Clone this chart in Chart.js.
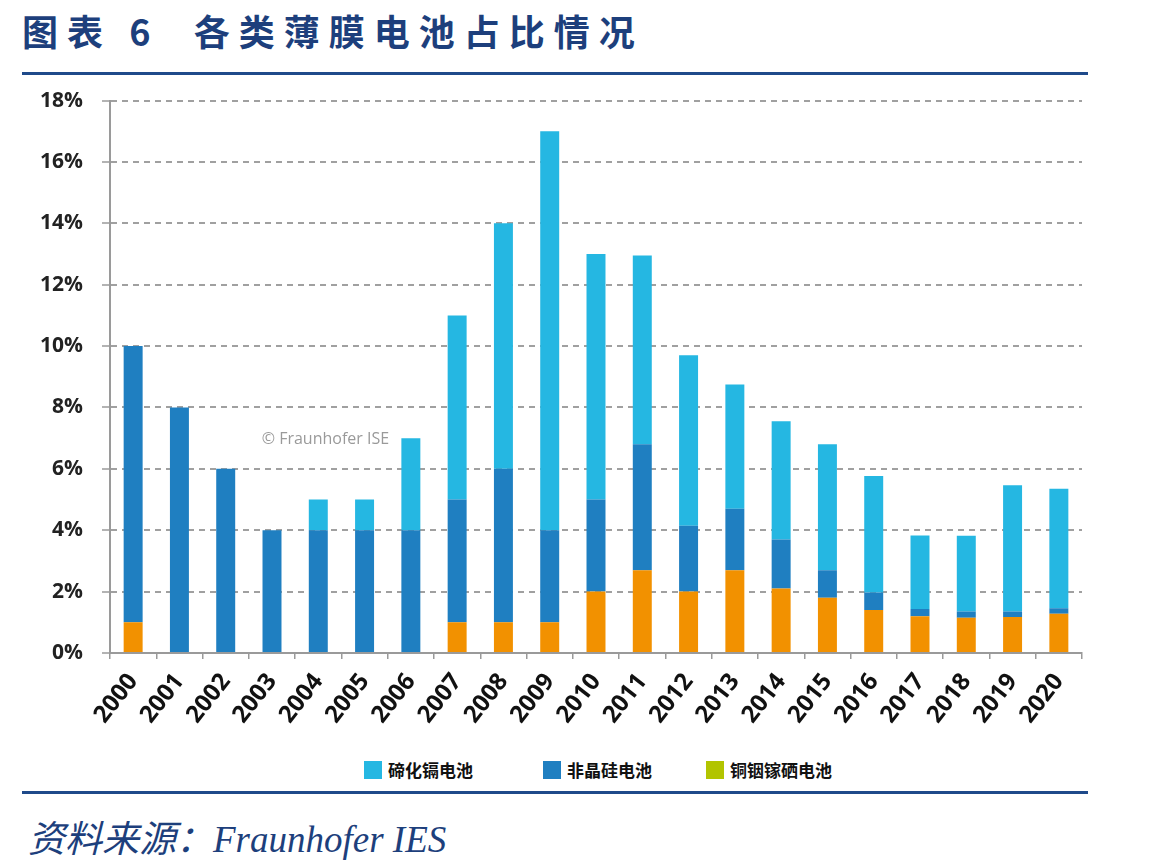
<!DOCTYPE html>
<html>
<head>
<meta charset="utf-8">
<script src="https://cdn.jsdelivr.net/npm/chart.js@4.4.1/dist/chart.umd.min.js"></script>
<style>
  html, body { margin: 0; padding: 0; background: #fff; }
  body { width: 1149px; height: 868px; position: relative; overflow: hidden; }
  .title {
    position: absolute; left: 22px; top: 4px;
    font-family: "Noto Sans CJK SC", sans-serif; font-weight: 700;
    font-size: 36px; color: #1d3f7c; letter-spacing: 9px; white-space: pre;
  }
  .rule { position: absolute; left: 22px; width: 1066px; height: 3px; background: #1f4a8a; }
  .source {
    position: absolute; left: 28px; top: 809px;
    font-family: "Liberation Serif", "Noto Sans CJK SC", serif; font-style: italic;
    font-size: 37px; color: #1d3f7c; white-space: pre;
  }
  #wrap { position: absolute; left: 0; top: 69px; width: 1149px; height: 676px; }
  .legend { position: absolute; top: 755px; height: 20px; font-family: "Noto Sans CJK SC", sans-serif; }
  .legend span.sw { display: inline-block; width: 18px; height: 18px; vertical-align: middle; margin-right: 6px; }
  .legend span.tx { font-size: 17px; font-weight: 700; color: #111; vertical-align: middle; }
</style>
</head>
<body>
<div class="title">图表 6  各类薄膜电池占比情况</div>
<div class="rule" style="top:72px"></div>
<div id="wrap"><canvas id="chart"></canvas></div>
<div id="legend"></div>
<div class="rule" style="top:791px"></div>
<div class="source">资料来源：Fraunhofer IES</div>

<script>
// categories
var years = ['2000', '2001', '2002', '2003', '2004', '2005', '2006', '2007', '2008', '2009', '2010',
    '2011', '2012', '2013', '2014', '2015', '2016', '2017', '2018', '2019', '2020'];

// segment values (% of total PV production), stacked bottom to top
var cigs = [1, 0, 0, 0, 0, 0, 0, 1, 1, 1, 2, 2.7, 2, 2.7, 2.1, 1.8, 1.4, 1.2, 1.15, 1.17, 1.28];
var asi = [9, 8, 6, 4, 4, 4, 4, 4, 5, 3, 3, 4.1, 2.15, 2.0, 1.6, 0.9, 0.57, 0.23, 0.2, 0.18, 0.18];
var cdte = [0, 0, 0, 0, 1, 1, 3, 6, 8, 13, 8, 6.15, 5.55, 4.05, 3.85, 4.1, 3.8, 2.4, 2.47, 4.12, 3.89];

var seriesNames = ['碲化镉电池', '非晶硅电池', '铜铟镓硒电池'];
var yMax = 18;
var yStep = 2;

var colCdte = '#25b7e2';
var colAsi = '#1f7fc1';
var colCigs = '#f29100';
var colCigsLegend = '#b2c400';

// legend built as plain html (the legend swatch for CIGS is green in the source)
var legendItems = [
    {name: seriesNames[0], color: colCdte, left: 364},
    {name: seriesNames[1], color: colAsi, left: 543},
    {name: seriesNames[2], color: colCigsLegend, left: 706}
];
var legendEl = document.getElementById('legend');
legendItems.forEach(function (it) {
    var d = document.createElement('div');
    d.className = 'legend';
    d.style.left = it.left + 'px';
    d.innerHTML = '<span class="sw" style="background:' + it.color + '"></span><span class="tx">' + it.name + '</span>';
    legendEl.appendChild(d);
});

// "© Fraunhofer ISE" watermark inside the plot
var watermark = {
    id: 'watermark',
    beforeDatasetsDraw: function (chart) {
        var ctx = chart.ctx;
        var x = chart.scales.x.getPixelForValue(2) + 36;
        var y = chart.scales.y.getPixelForValue(6.95);
        ctx.save();
        ctx.font = '16px "Open Sans", sans-serif';
        ctx.fillStyle = '#9a9a9a';
        ctx.textBaseline = 'middle';
        ctx.fillText('© Fraunhofer ISE', x, y);
        ctx.restore();
    }
};

var xFont = {family: '"Open Sans", sans-serif', size: 24, weight: '700'};
var yFont = {family: '"Open Sans", sans-serif', size: 21, weight: '700'};

var config = {
    type: 'bar',
    data: {
        labels: years,
        datasets: [
            {label: seriesNames[2], data: cigs, backgroundColor: colCigs},
            {label: seriesNames[1], data: asi, backgroundColor: colAsi},
            {label: seriesNames[0], data: cdte, backgroundColor: colCdte}
        ]
    },
    options: {
        responsive: true,
        maintainAspectRatio: false,
        animation: false,
        layout: {padding: {left: 0, right: 67, top: 10, bottom: 0}},
        datasets: {bar: {categoryPercentage: 1, barPercentage: 0.41, borderWidth: 0}},
        plugins: {
            legend: {display: false},
            tooltip: {enabled: false}
        },
        scales: {
            x: {
                stacked: true,
                afterFit: function (scale) { scale.height = 92; },
                grid: {offset: true, drawOnChartArea: false, tickLength: 6, color: '#9a9a9a', lineWidth: 1.5},
                border: {color: '#9a9a9a', width: 2},
                ticks: {font: xFont, color: '#111', minRotation: 52, maxRotation: 52, padding: 9}
            },
            y: {
                stacked: true,
                min: 0,
                max: yMax,
                afterFit: function (scale) { scale.width = 110; },
                grid: {color: '#a0a0a0', lineWidth: 2, tickLength: 8, tickColor: '#9a9a9a', tickWidth: 1.5},
                border: {color: '#9a9a9a', width: 2, dash: [6, 5]},
                ticks: {
                    stepSize: yStep,
                    font: yFont,
                    color: '#222',
                    padding: 19,
                    callback: function (v) { return v + '%'; }
                }
            }
        }
    },
    plugins: [watermark]
};

new Chart(document.getElementById('chart'), config);
</script>
</body>
</html>
